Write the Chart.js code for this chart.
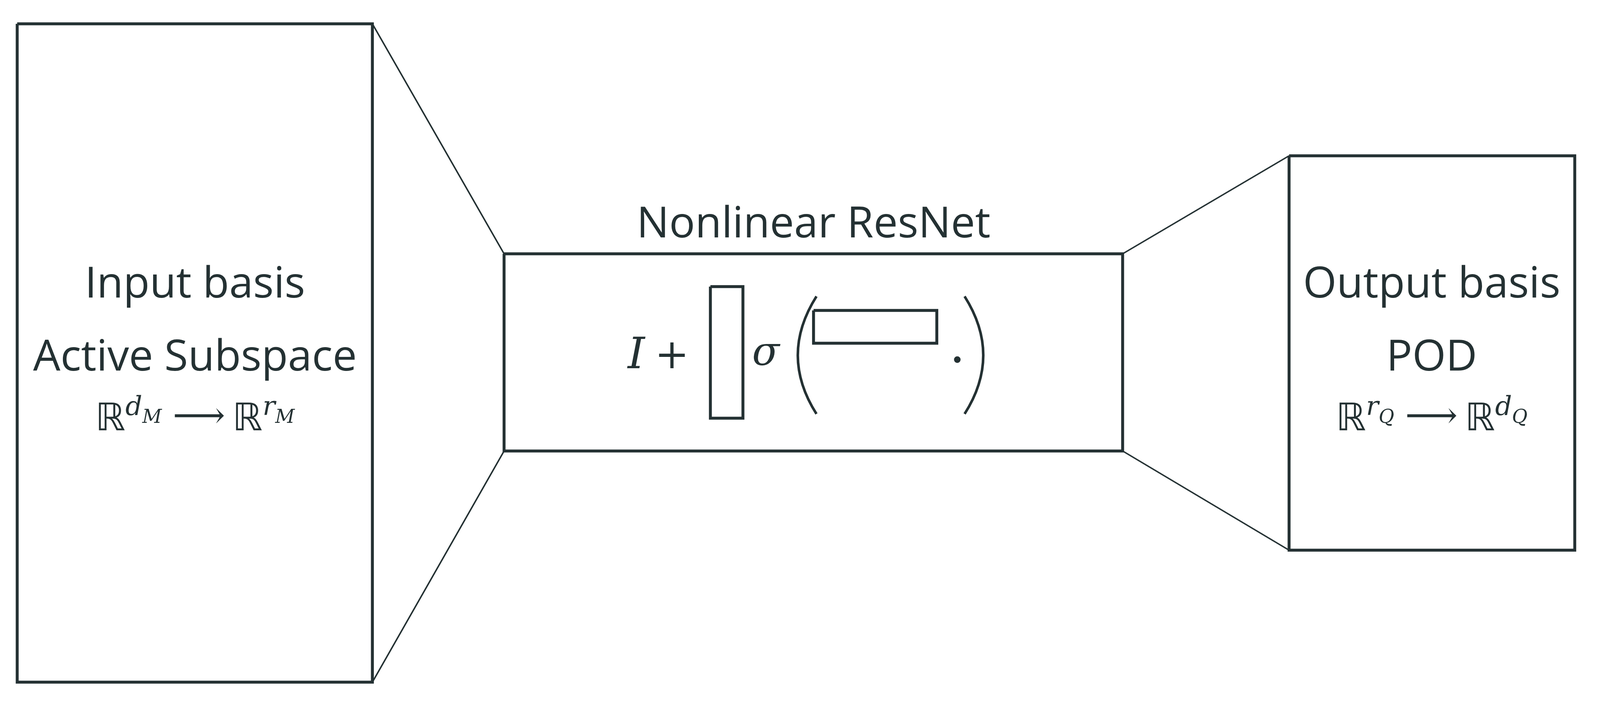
<!DOCTYPE html>
<html>
<head>
<meta charset="utf-8">
<script src="https://cdn.jsdelivr.net/npm/chart.js@4/dist/chart.umd.min.js"></script>
<style>
  html, body { margin: 0; padding: 0; background: #fff; overflow: hidden; }
  #wrap { width: 100vw; height: 100vh; }
</style>
</head>
<body>
<div id="wrap"><canvas id="c"></canvas></div>
<script>
// Diagram geometry in picture units (x right, y down), 4374 x 1826 frame
const boxes = [
  { name: "input",  x: [47, 1018],   y: [61, 1747] },
  { name: "resnet", x: [1378, 3069], y: [650, 1155] },
  { name: "output", x: [3524, 4305], y: [399, 1409] },
  { name: "tall",   x: [1942, 2031], y: [734, 1071] },
  { name: "wide",   x: [2224, 2561], y: [795, 879] },
];
const connectors = [
  [[1018, 61], [1378, 650]],
  [[1018, 1747], [1378, 1155]],
  [[3069, 650], [3524, 399]],
  [[3069, 1155], [3524, 1409]],
];
const labels = [
  { text: "Nonlinear ResNet", x: 2224, y: 608 },
  { text: "Input basis", x: 533, y: 762 },
  { text: "Active Subspace", x: 533, y: 949 },
  { text: "Output basis", x: 3914, y: 762 },
  { text: "POD", x: 3914, y: 949 },
];
const ink = "#243133";
const sans = "'Open Sans', 'DejaVu Sans', sans-serif";
const serif = "'DejaVu Serif', serif";
const FRAME_W = 4374;

const k = () => (window.innerWidth || FRAME_W) / FRAME_W;

const boxToPoints = (b) => [
  { x: b.x[0], y: b.y[0] }, { x: b.x[1], y: b.y[0] },
  { x: b.x[1], y: b.y[1] }, { x: b.x[0], y: b.y[1] }, { x: b.x[0], y: b.y[0] },
];

const datasets = [
  ...boxes.map((b) => ({
    data: boxToPoints(b), showLine: true, borderColor: ink,
    borderWidth: 8 * k(), pointRadius: 0, borderJoinStyle: "miter", fill: false,
  })),
  ...connectors.map((seg) => ({
    data: seg.map(([x, y]) => ({ x, y })), showLine: true, borderColor: ink,
    borderWidth: 4 * k(), pointRadius: 0, fill: false,
  })),
];

// pieces: [text, fontSize, fontRest, dy, gapAfter]
function drawPieces(ctx, s, pieces, cx, cy) {
  const font = (p) => `${p[1]} ${p[2] * s}px ${p[3]}`;
  let w = 0;
  pieces.forEach((p) => { ctx.font = font(p); w += ctx.measureText(p[0]).width + (p[5] || 0) * s; });
  let x = cx - w / 2;
  pieces.forEach((p) => {
    ctx.font = font(p);
    ctx.fillText(p[0], x, cy + (p[4] || 0) * s);
    x += ctx.measureText(p[0]).width + (p[5] || 0) * s;
  });
}

const textPlugin = {
  id: "diagramText",
  afterDatasetsDraw(chart) {
    const { ctx, scales } = chart;
    const s = chart.width / FRAME_W;
    const px = (v) => scales.x.getPixelForValue(v);
    const py = (v) => scales.y.getPixelForValue(v);
    ctx.save();
    ctx.fillStyle = ink;
    ctx.strokeStyle = ink;
    ctx.textBaseline = "alphabetic";
    ctx.textAlign = "left";
    labels.forEach((l) => {
      ctx.font = `${118 * s}px ${sans}`;
      const w = ctx.measureText(l.text).width;
      ctx.fillText(l.text, px(l.x) - w / 2, py(l.y));
    });
    const R = ["", 104, sans], sup = ["italic", 72, serif], sub = ["italic", 52, serif], ar = ["", 100, serif];
    const formula = (a, b, c, d) => [
      ["ℝ", ...R], [a, ...sup, -42], [b, ...sub, -20, 30], ["⟶", ...ar, -8, 20],
      ["ℝ", ...R], [c, ...sup, -42], [d, ...sub, -20],
    ];
    drawPieces(ctx, s, formula("d", "M", "r", "M"), px(533), py(1102));
    drawPieces(ctx, s, formula("r", "Q", "d", "Q"), px(3914), py(1102));
    // I + and sigma
    ctx.font = `italic ${118 * s}px ${serif}`;
    ctx.fillText("I", px(1716), py(943));
    ctx.font = `${112 * s}px ${serif}`;
    ctx.fillText("+", px(1790), py(943));
    ctx.font = `italic ${110 * s}px ${serif}`;
    ctx.fillText("σ", px(2056), py(935));
    // parentheses and dot
    ctx.lineWidth = 7 * s;
    ctx.beginPath();
    ctx.moveTo(px(2232), py(759));
    ctx.quadraticCurveTo(px(2130), py(910), px(2232), py(1060));
    ctx.moveTo(px(2637), py(759));
    ctx.quadraticCurveTo(px(2739), py(910), px(2637), py(1060));
    ctx.stroke();
    ctx.beginPath();
    ctx.arc(px(2617), py(921), 9 * s, 0, Math.PI * 2);
    ctx.fill();
    ctx.restore();
  },
};

new Chart(document.getElementById("c"), {
  type: "scatter",
  data: { datasets },
  plugins: [textPlugin],
  options: {
    animation: false,
    responsive: true,
    maintainAspectRatio: false,
    layout: { padding: 0 },
    plugins: { legend: { display: false }, tooltip: { enabled: false } },
    scales: {
      x: { type: "linear", min: 0, max: 4374, display: false },
      y: { type: "linear", min: 0, max: 1826, reverse: true, display: false },
    },
  },
});
</script>
</body>
</html>
